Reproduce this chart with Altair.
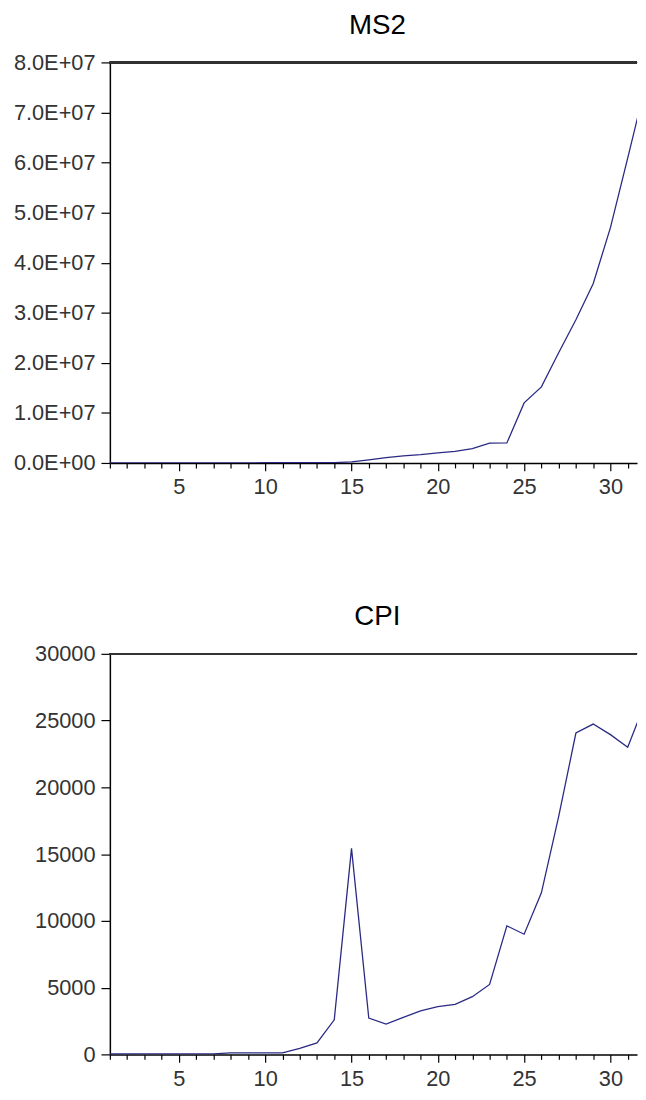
import altair as alt
import pandas as pd

# observation index
obs = list(range(1, 33))

# MS2 series
ms2 = [15000, 18000, 20000, 22000, 25000, 28000, 30000, 33000, 36000, 40000,
       45000, 50000, 60000, 80000, 200000, 600000, 1070000, 1400000, 1650000,
       2000000, 2300000, 2850000, 3950000, 4000000, 12000000, 15200000,
       22000000, 28600000, 35800000, 47000000, 60900000, 75000000]

# CPI series
cpi = [30, 30, 35, 35, 40, 40, 45, 110, 110, 115, 120, 450, 860, 2590, 15430,
       2720, 2270, 2770, 3260, 3580, 3750, 4320, 5240, 9630, 9000, 12100,
       17800, 24070, 24740, 23950, 23010, 26300]

x_ticks = list(range(1, 32))
ms2_ticks = [0, 1e7, 2e7, 3e7, 4e7, 5e7, 6e7, 7e7, 8e7]
cpi_ticks = [0, 5000, 10000, 15000, 20000, 25000, 30000]

df = pd.DataFrame({"obs": obs, "MS2": ms2, "CPI": cpi})

W = 533
H = 405
LINE = "#2a2a85"
FONT = "Liberation Sans"

x_axis = alt.Axis(
    values=x_ticks,
    labelExpr="datum.value % 5 === 0 ? datum.label : ''",
    tickSize={"condition": {"test": "datum.value % 5 === 0", "value": 8}, "value": 5},
    tickColor="black", tickWidth=1.2,
    domainColor="black", domainWidth=1.5,
    labelFont=FONT, labelFontSize=22, labelColor="#333333",
    labelPadding=6, grid=False, title=None, labelFlush=False,
)


def panel(field, ticks, label_expr, domain_max, title):
    base = alt.Chart(df)
    line = base.mark_line(color=LINE, strokeWidth=1.3, clip=True).encode(
        x=alt.X("obs:Q", scale=alt.Scale(domain=[1, 31.54], nice=False, zero=False),
                axis=x_axis),
        y=alt.Y(f"{field}:Q", scale=alt.Scale(domain=[0, domain_max], nice=False),
                axis=alt.Axis(values=ticks, labelExpr=label_expr,
                              tickSize=9, tickColor="black", tickWidth=1.2,
                              domainColor="black", domainWidth=1.5,
                              labelFont=FONT, labelFontSize=22,
                              labelColor="#333333", labelPadding=6,
                              grid=False, title=None,
                              minExtent=101, maxExtent=101)),
    )
    top = base.mark_rule(color="#333333", strokeWidth=1.5).encode(
        x=alt.value(0), x2=alt.value(W), y=alt.value(0)
    )
    ttl = alt.Chart(pd.DataFrame({"t": [title]})).mark_text(
        font=FONT, fontSize=28, color="black", align="center",
        baseline="top",
    ).encode(text="t:N", x=alt.value(W / 2 + 4), y=alt.value(-51))
    return alt.layer(line, top, ttl).properties(width=W, height=H)


ms2_chart = panel(
    "MS2", ms2_ticks,
    "datum.value == 0 ? '0.0E+00' : format(datum.value / 1e7, '.1f') + 'E+07'",
    8e7, "MS2",
)
cpi_chart = panel("CPI", cpi_ticks, "format(datum.value, 'd')", 30000, "CPI")

chart = alt.vconcat(ms2_chart, cpi_chart, spacing=107).properties(
    padding={"left": 2, "top": -2, "right": 0, "bottom": -4}
).configure_view(stroke=None)

chart.save("out.html", embed_options={"renderer": "svg", "actions": False})
